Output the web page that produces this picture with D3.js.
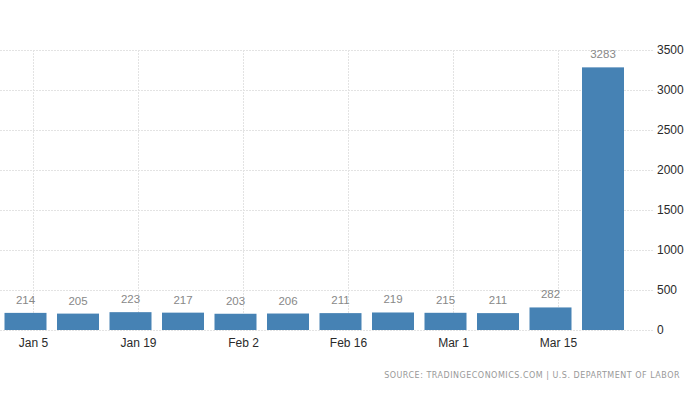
<!DOCTYPE html>
<html>
<head>
<meta charset="utf-8">
<script src="https://cdn.jsdelivr.net/npm/d3@7"></script>
<style>
  html, body { margin: 0; padding: 0; background: #ffffff; }
  svg { display: block; }
</style>
</head>
<body>
<svg id="chart" width="700" height="400"></svg>
<script>
// Weekly initial jobless claims (thousands), week ending dates (2020)
const weekEnding = ["2020-01-04","2020-01-11","2020-01-18","2020-01-25","2020-02-01","2020-02-08","2020-02-15","2020-02-22","2020-02-29","2020-03-07","2020-03-14","2020-03-21"];
const claims = [214, 205, 223, 217, 203, 206, 211, 219, 215, 211, 282, 3283];
const xTickDates = ["2020-01-05","2020-01-19","2020-02-02","2020-02-16","2020-03-01","2020-03-15"];
const yTicks = [0, 500, 1000, 1500, 2000, 2500, 3000, 3500];
const sourceText = "SOURCE: TRADINGECONOMICS.COM | U.S. DEPARTMENT OF LABOR";

const parse = d3.timeParse("%Y-%m-%d");
const data = weekEnding.map((d, i) => ({ date: parse(d), value: claims[i] }));
const tickDates = xTickDates.map(parse);

const svg = d3.select("#chart");
const gridRight = 653;

const x = d3.scaleTime()
  .domain([parse("2020-01-05"), parse("2020-03-15")])
  .range([33, 558]);
const y = d3.scaleLinear().domain([0, 3500]).range([330, 50]);

const barW = 42;
const gridColor = "#e3e3e3";

// horizontal grid
svg.append("g").selectAll("line").data(yTicks).join("line")
  .attr("x1", 0).attr("x2", gridRight)
  .attr("y1", d => Math.round(y(d)) + 0.5).attr("y2", d => Math.round(y(d)) + 0.5)
  .attr("stroke", gridColor).attr("stroke-width", 1)
  .attr("stroke-dasharray", "2,1");

// vertical grid
svg.append("g").selectAll("line").data(tickDates).join("line")
  .attr("x1", d => Math.round(x(d)) + 0.5).attr("x2", d => Math.round(x(d)) + 0.5)
  .attr("y1", y(3500)).attr("y2", y(0))
  .attr("stroke", gridColor).attr("stroke-width", 1)
  .attr("stroke-dasharray", "2,1");

// bars
svg.append("g").selectAll("rect").data(data).join("rect")
  .attr("x", d => x(d.date) - barW / 2)
  .attr("width", barW)
  .attr("y", d => y(d.value))
  .attr("height", d => y(0) - y(d.value))
  .attr("fill", "#4682b4");

// value labels
svg.append("g").selectAll("text").data(data).join("text")
  .attr("x", d => x(d.date))
  .attr("y", d => y(d.value) - 9)
  .attr("text-anchor", "middle")
  .attr("font-family", "'Liberation Sans', Arial, sans-serif")
  .attr("font-size", 11.5)
  .attr("fill", "#888")
  .text(d => d.value);

// x axis
const xAxis = d3.axisBottom(x)
  .tickValues(tickDates)
  .tickFormat(d3.timeFormat("%b %-d"))
  .tickSize(0)
  .tickPadding(8);
const gx = svg.append("g").attr("transform", `translate(0,${y(0)})`).call(xAxis);
gx.select(".domain").remove();
gx.selectAll("text")
  .attr("font-family", "'Liberation Sans', Arial, sans-serif")
  .attr("font-size", 12)
  .attr("fill", "#2a2a2a");

// y axis (right)
const yAxis = d3.axisRight(y)
  .tickValues(yTicks)
  .tickFormat(d3.format("d"))
  .tickSize(0)
  .tickPadding(4);
const gy = svg.append("g").attr("transform", `translate(653,0)`).call(yAxis);
gy.select(".domain").remove();
gy.selectAll("text")
  .attr("font-family", "'Liberation Sans', Arial, sans-serif")
  .attr("font-size", 12)
  .attr("fill", "#2a2a2a");

// source
svg.append("text")
  .attr("x", 680).attr("y", 378)
  .attr("text-anchor", "end")
  .attr("font-family", "'DejaVu Sans', Verdana, sans-serif")
  .attr("font-size", 8)
  .attr("letter-spacing", 0.5)
  .attr("fill", "#999")
  .text(sourceText);
</script>
</body>
</html>
